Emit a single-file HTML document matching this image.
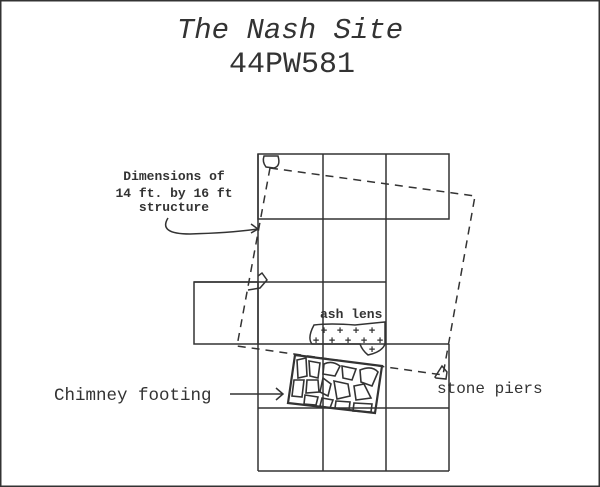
<!DOCTYPE html>
<html><head><meta charset="utf-8"><style>
html,body{margin:0;padding:0;background:#fff}
svg{display:block}
</style></head><body>
<svg width="600" height="487" viewBox="0 0 600 487" xmlns="http://www.w3.org/2000/svg">
<rect x="0.5" y="0.5" width="599" height="486" fill="#fff" stroke="#333" stroke-width="2"/>
<g font-family="Liberation Mono, monospace" fill="#333" text-anchor="middle">
<text x="290" y="38" font-size="29" font-style="italic">The Nash Site</text>
<text x="292" y="72" font-size="30">44PW581</text>
</g>
<g font-family="Liberation Mono, monospace" fill="#333" font-size="13" font-weight="bold" text-anchor="middle">
<text x="174" y="180">Dimensions of</text>
<text x="174" y="197">14 ft. by 16 ft</text>
<text x="174" y="211">structure</text>
</g>
<g font-family="Liberation Mono, monospace" fill="#333">
<text x="54" y="400" font-size="17.5">Chimney footing</text>
<text x="437" y="393" font-size="16">stone piers</text>
<text x="320" y="318" font-size="13" font-weight="bold">ash lens</text>
</g>
<g stroke="#333" stroke-width="1.5" fill="none">
<rect x="258" y="154" width="191" height="65"/>
<line x1="323" y1="154" x2="323" y2="471"/>
<line x1="386" y1="154" x2="386" y2="471"/>
<line x1="258" y1="154" x2="258" y2="471"/>
<line x1="194" y1="282" x2="386" y2="282"/>
<rect x="194" y="282" width="64" height="62"/>
<line x1="258" y1="344" x2="449" y2="344"/>
<line x1="449" y1="344" x2="449" y2="471"/>
<line x1="258" y1="408" x2="449" y2="408"/>
<line x1="258" y1="471" x2="449" y2="471"/>
<polygon points="270,168 475,196 443,375 237,346" stroke-dasharray="8,6"/>
<path d="M264,156 L278,156 Q281,166 274,168 L266,167 Q262,162 264,156Z"/>
<path d="M248,290 L260,288 L267,280 L262,273 L258,276"/>
<path d="M435,377 L442,366 L447,372 L446,379 L436,378Z"/>
<path d="M168,218 Q158,234 190,234 Q230,233 258,229"/>
<path d="M251,224 L258,229 L251,233"/>
<line x1="230" y1="394" x2="283" y2="394"/>
<path d="M276,388 L283,394 L276,400"/>
<path d="M314,325 Q330,323 355,325 Q375,323 385,322 L385,344 Q382,352 368,355 Q362,350 360,344 L312,344 Q307,338 314,325Z"/>
<polygon points="295,355 382,366 375,413 288,403" stroke-width="2.2"/>
<g stroke-width="1.6">
<path d="M297,360 L306,358 L307,376 L298,378Z"/>
<path d="M309,361 L320,363 L318,378 L310,376Z"/>
<path d="M324,364 Q332,360 340,366 L335,376 L323,374Z"/>
<path d="M342,366 L356,369 L352,380 L343,378Z"/>
<path d="M360,370 Q372,365 378,372 L372,386 L361,382Z"/>
<path d="M294,380 L304,380 L302,397 L292,396Z"/>
<path d="M307,380 L318,380 L319,392 L306,393Z"/>
<path d="M323,378 L331,384 L328,396 L320,392Z"/>
<path d="M334,381 L348,384 L350,396 L337,399Z"/>
<path d="M354,386 L364,384 L371,398 L356,400Z"/>
<path d="M305,395 L318,397 L316,405 L304,404Z"/>
<path d="M322,398 L333,400 L330,408 L320,406Z"/>
<path d="M336,401 L350,402 L349,410 L335,408Z"/>
<path d="M354,403 L372,404 L371,412 L353,411Z"/>
</g>
</g>
<g fill="#333" font-family="Liberation Mono, monospace" font-size="11" font-weight="bold" text-anchor="middle">
<text x="324" y="334">+</text><text x="340" y="334">+</text><text x="356" y="334">+</text><text x="372" y="334">+</text>
<text x="316" y="344">+</text><text x="332" y="344">+</text><text x="348" y="344">+</text><text x="364" y="344">+</text><text x="380" y="344">+</text>
<text x="372" y="353">+</text>
</g>
</svg>
</body></html>
